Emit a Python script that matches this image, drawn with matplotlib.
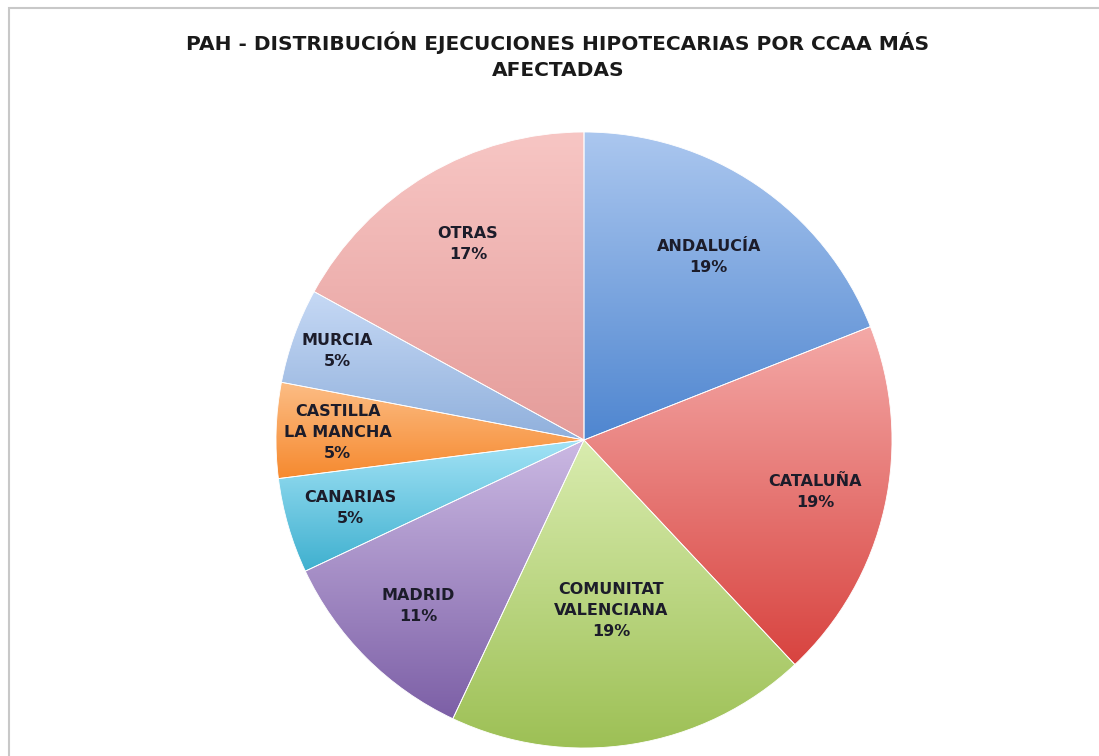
import numpy as np
import matplotlib
matplotlib.use('Agg')
import matplotlib.pyplot as plt
from matplotlib.colors import LinearSegmentedColormap
from matplotlib.patches import Rectangle

# data
regiones = ['ANDALUCÍA', 'CATALUÑA', 'COMUNITAT\nVALENCIANA', 'MADRID',
            'CANARIAS', 'CASTILLA\nLA MANCHA', 'MURCIA', 'OTRAS']
porcentajes = [19, 19, 19, 11, 5, 5, 5, 17]

# gradient colours (top, bottom), Excel 2007 style
col_top = ['#abc7ef', '#f4a9a7', '#d9ecaf', '#cbb9e3', '#a3e3f6', '#fcbd85', '#c6d9f5', '#f7c6c4']
col_bot = ['#4f86d0', '#d8433f', '#9dc055', '#7c5fa6', '#3fb0cf', '#f6892e', '#90b0dc', '#e59c9a']

# label placement (fraction of radius)
lab_r = [0.72, 0.77, 0.56, 0.76, 0.79, 0.80, 0.85, 0.74]

fig = plt.figure(figsize=(10.99, 7.56), dpi=100)
W, H = 1099, 756

# chart area frame
fig.add_artist(Rectangle((9 / W, -0.1), 1.2, 1 - 8 / H + 0.1, transform=fig.transFigure,
                         facecolor='none', edgecolor='#c8c8c8', linewidth=1.5))

cx, cy, R = 584, 440, 308
ax = fig.add_axes([(cx - R) / W, (H - cy - R) / H, 2 * R / W, 2 * R / H])

wedges, _ = ax.pie(porcentajes, startangle=90, counterclock=False, radius=1,
                   wedgeprops=dict(edgecolor='white', linewidth=0.6))

for i, w in enumerate(wedges):
    bb = w.get_path().get_extents()
    cmap = LinearSegmentedColormap.from_list('g%d' % i, [col_bot[i], col_top[i]])
    grad = np.linspace(0, 1, 256).reshape(-1, 1)
    im = ax.imshow(grad, cmap=cmap, origin='lower', aspect='auto',
                   extent=[bb.x0, bb.x1, bb.y0, bb.y1], zorder=w.get_zorder())
    im.set_clip_path(w)
    w.set_facecolor('none')
    w.set_zorder(w.get_zorder() + 0.5)

    ang = np.deg2rad((w.theta1 + w.theta2) / 2)
    x = lab_r[i] * np.cos(ang)
    y = lab_r[i] * np.sin(ang)
    ax.text(x, y, '%s\n%d%%' % (regiones[i], porcentajes[i]), ha='center', va='center',
            fontsize=11.5, fontweight='bold', family='DejaVu Sans',
            color='#1c1c2a', linespacing=1.5, zorder=10)

ax.set_xlim(-1, 1)
ax.set_ylim(-1, 1)
ax.set_aspect('auto')
ax.axis('off')

fig.text(558 / W, 1 - 56 / H, 'PAH - DISTRIBUCIÓN EJECUCIONES HIPOTECARIAS POR CCAA MÁS\nAFECTADAS',
         ha='center', va='center', fontsize=14.5, fontweight='bold',
         family='DejaVu Sans', color='#1a1a1a', linespacing=1.5)

fig.savefig('out.png', dpi=100, facecolor='white')
